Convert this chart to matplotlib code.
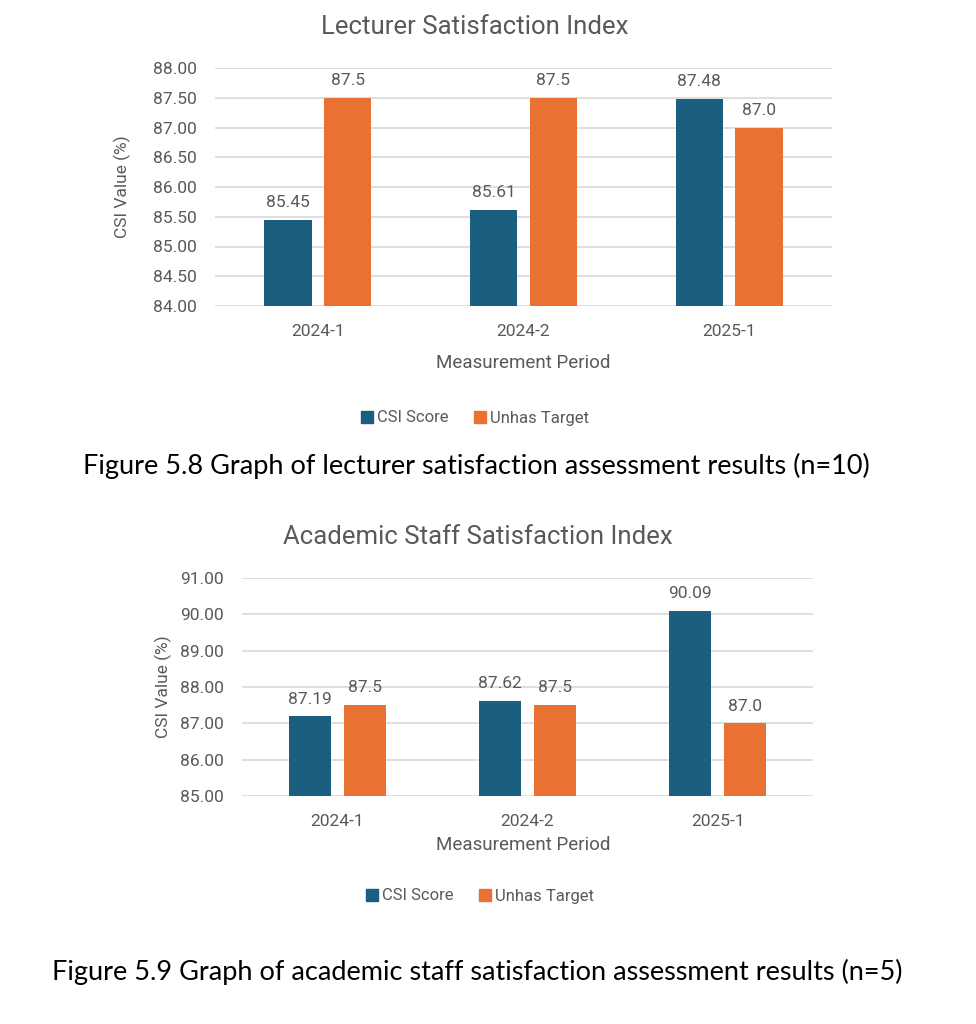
import matplotlib
matplotlib.use("Agg")
import matplotlib.pyplot as plt
import numpy as np
from matplotlib.lines import Line2D

NARROW = ['Roboto', 'DejaVu Sans']
CAP = ['Lato', 'DejaVu Sans']

periods = ["2024-1", "2024-2", "2025-1"]
lect_csi = [85.45, 85.61, 87.48]
lect_target = [87.5, 87.5, 87.0]
staff_csi = [87.19, 87.62, 90.09]
staff_target = [87.5, 87.5, 87.0]
lect_ticks = [84.00, 84.50, 85.00, 85.50, 86.00, 86.50, 87.00, 87.50, 88.00]
staff_ticks = [85.00, 86.00, 87.00, 88.00, 89.00, 90.00, 91.00]

BLUE = "#1a5e80"
ORANGE = "#e97132"
GREY = "#595959"
GRID = "#d9d9d9"

W, H = 976, 1024
fig = plt.figure(figsize=(W / 100, H / 100), dpi=100)
fig.patch.set_facecolor("white")


def px(x, y):
    return x / W, 1 - y / H


def chart(left, right, top, bottom, ticks, csi, target, title, title_xy,
          ylabel_xy, xlabel_xy, legend_xy, caption, caption_xy, bw, off):
    ax = fig.add_axes([left / W, 1 - bottom / H, (right - left) / W, (bottom - top) / H])
    x = np.arange(len(periods))
    ax.bar(x - off, [c - ticks[0] for c in csi], bw, bottom=ticks[0], color=BLUE, zorder=3)
    ax.bar(x + off, [t - ticks[0] for t in target], bw, bottom=ticks[0], color=ORANGE, zorder=3)
    for xi, v in zip(x - off, csi):
        ax.annotate(f"{v:.2f}", (xi, v), xytext=(0, 7), textcoords="offset points",
                    ha="center", va="bottom", fontsize=12.5, color=GREY, family=NARROW)
    for xi, v in zip(x + off, target):
        ax.annotate(f"{v:.1f}", (xi, v), xytext=(0, 7), textcoords="offset points",
                    ha="center", va="bottom", fontsize=12.5, color=GREY, family=NARROW)
    ax.set_ylim(ticks[0], ticks[-1])
    ax.set_xlim(-0.5, len(periods) - 0.5)
    ax.set_yticks(ticks)
    ax.set_yticklabels([f"{t:.2f}" for t in ticks], family=NARROW, fontsize=12.5, color=GREY)
    ax.set_xticks(x)
    ax.set_xticklabels(periods, family=NARROW, fontsize=12.5, color=GREY)
    ax.tick_params(axis="both", length=0)
    ax.tick_params(axis="y", pad=13)
    ax.tick_params(axis="x", pad=13)
    for s in ax.spines.values():
        s.set_visible(False)
    ax.yaxis.grid(True, color=GRID, linewidth=1.2, zorder=0)
    ax.set_axisbelow(True)

    fig.text(*px(*title_xy), title, ha="center", va="center", fontsize=18.5, color=GREY, family=NARROW)
    fig.text(*px(*ylabel_xy), "CSI Value (%)", ha="center", va="center", rotation=90,
             fontsize=12.5, color=GREY, family=NARROW)
    fig.text(*px(*xlabel_xy), "Measurement Period", ha="center", va="center", fontsize=13.5,
             color=GREY, family=NARROW)
    handles = [Line2D([], [], marker="s", linestyle="none", color=BLUE, markersize=9),
               Line2D([], [], marker="s", linestyle="none", color=ORANGE, markersize=9)]
    fig.legend(handles, ["CSI Score", "Unhas Target"], loc="center", bbox_to_anchor=px(*legend_xy),
               ncol=2, frameon=False, handletextpad=0.2, columnspacing=1.5, handlelength=0.8,
               prop={"family": NARROW, "size": 12}, labelcolor=GREY)
    fig.text(*px(*caption_xy), caption, ha="center", va="center", fontsize=19.5, color="black", family=CAP)


chart(215, 832, 68, 306, lect_ticks, lect_csi, lect_target, "Lecturer Satisfaction Index",
      (475, 27), (122, 187), (523, 363), (475, 418),
      "Figure 5.8 Graph of lecturer satisfaction assessment results (n=10)", (476, 466),
      0.23, 0.145)
chart(242, 813, 578, 796, staff_ticks, staff_csi, staff_target, "Academic Staff Satisfaction Index",
      (478, 537), (163, 687), (523, 845), (480, 896),
      "Figure 5.9 Graph of academic staff satisfaction assessment results (n=5)", (477, 972),
      0.22, 0.145)

fig.savefig("out.png", dpi=100, facecolor="white")
